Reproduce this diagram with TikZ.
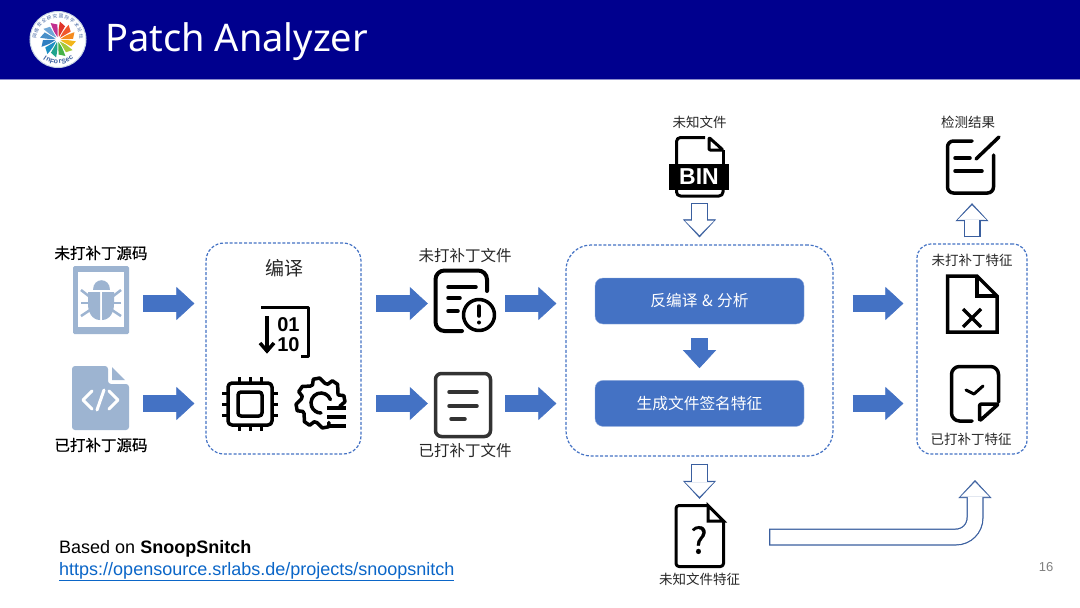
\documentclass[tikz,border=0pt]{standalone}
\usepackage{fontspec}
\setmainfont{Liberation Sans}
\newfontfamily\cjk{Noto Sans CJK SC}
\newfontfamily\cjkheavy[FakeBold=0.5]{Noto Sans CJK SC}
\newfontfamily\titlefont{Noto Sans}
\usepackage{xcolor}
\usepackage{tikz}
\usetikzlibrary{arrows.meta,positioning}

\definecolor{headblue}{HTML}{00008E}
\definecolor{boxblue}{HTML}{4472C4}
\definecolor{edgeblue}{HTML}{3A5F9F}
\definecolor{softblue}{HTML}{9DB4D1}
\definecolor{linkblue}{HTML}{0B66C8}
\newcommand{\pxfont}[1]{\fontsize{#1}{#1}\selectfont}

\begin{document}
\begin{tikzpicture}[x=1pt, y=-1pt,
	lbl/.style={inner sep=0pt, text=black!85, font=\cjk\pxfont{13.5}},
	dashbox/.style={draw=boxblue, line width=1.2pt, dash pattern=on 3pt off 1.8pt},
	stepbox/.style={draw=boxblue!60!white, fill=boxblue, rounded corners=8pt, minimum width=209pt, minimum height=46pt, text=white, inner sep=0pt, font=\cjk\pxfont{15.7}},
	iconbox/.style={inner sep=0pt, minimum width=#1},
	icon/.style={line width=3.5pt, line cap=round, line join=round},
	flowarrow/.style 2 args={draw=boxblue, line width=17pt, -{Triangle[length=18pt,width=33pt,line width=.6pt]}, shorten <=#1, shorten >=#2},
	openarrow/.style 2 args={draw=white, line width=14.5pt, -{Triangle[length=14.5pt,width=28.5pt,line width=.6pt]}, shorten <=#1+1.2pt, shorten >=#2+2.2pt,
		preaction={draw=edgeblue, line width=17pt, -{Triangle[length=18pt,width=33pt,line width=.6pt]}, shorten <=#1, shorten >=#2}}]
	\useasboundingbox (0,0) rectangle (1080,608);
	\fill[white] (0,0) rectangle (1080,608);

	% header
	\fill[headblue] (0,0) rectangle (1080,79);
	\draw[color=headblue!45!white, line width=1pt] (0,79.5) -- (1080,79.5);
	\node (title) [anchor=base west, inner sep=0pt, text=white, font=\titlefont\pxfont{38}] at (105,51) {Patch Analyzer};

	% logo
	\node (logo) [circle, fill=white, draw=softblue!60!white, line width=1pt, minimum size=56pt, inner sep=0pt] at (58,39.5) {};
	\begin{scope}[shift={(58,39.5)}]
		\foreach \a/\c in {-100/C2308F,-70/E0352B,-40/F0562A,-10/F58A1F,20/F2B61B,50/A5C93A,80/45B24A,110/1FA58E,140/1C8FC4,170/2F7FC1,200/4A90C8,230/6FA6D6}{
			\definecolor{bladecol}{HTML}{\c}
			\fill[bladecol] (\a:2.5) .. controls (\a-18:9) .. (\a-14:18) -- (\a+8:15) .. controls (\a+8:9) .. cycle;
		}
		\foreach \t [count=\i] in {网,络,安,全,研,究,国,际,学,术,论,坛}{
			\pgfmathsetmacro{\ang}{-172+(\i-1)*14.9}
			\pgfmathsetmacro{\rot}{-(\ang+90)}
			\node (ring\i) [inner sep=0pt, rotate=\rot, text=edgeblue, font=\cjk\pxfont{4.6}] at (\ang:23.5) {\t};
		}
		\foreach \t [count=\i] in {I,n,F,o,r,S,e,c}{
			\pgfmathsetmacro{\ang}{125-(\i-1)*10}
			\pgfmathsetmacro{\rot}{90-\ang}
			\node (seal\i) [inner sep=0pt, rotate=\rot, text=edgeblue, font=\bfseries\pxfont{7}] at (\ang:22.5) {\t};
		}
	\end{scope}

	% containers
	\node (compile) [dashbox, rounded corners=18pt, minimum width=155pt, minimum height=211pt] at (283.5,348.5) {};
	\node (analysis) [dashbox, rounded corners=25pt, minimum width=267pt, minimum height=211pt] at (699.5,350.5) {};
	\node (features) [dashbox, rounded corners=14pt, minimum width=110pt, minimum height=210pt] at (972,349) {};
	\node (decomp) [stepbox] at (699.5,301) {反编译\hspace{4.5pt}\&\hspace{4.5pt}分析};
	\node (signgen) [stepbox, below=56pt of decomp] {生成文件签名特征};

	% anchors for the icons
	\node (bugsrc) [iconbox=56pt, minimum height=68pt] at (101,303.5) {};
	\node (codesrc) [iconbox=56pt, minimum height=64pt] at (101,403.5) {};
	\node (warnfile) [iconbox=56pt, minimum height=61pt] at (463,303.5) {};
	\node (plainfile) [iconbox=56pt, minimum height=64pt] at (463,403.5) {};
	\node (binfile) [iconbox=60pt, minimum height=60pt] at (699.5,167) {};
	\node (result) [iconbox=52pt, minimum height=52pt] at (972,167) {};
	\node (unkfeat) [iconbox=49pt, minimum height=62pt] at (699.5,537) {};
	\coordinate (bentend) at (975,454);

	% labels
	\node (srcalbl) [lbl, text=black, above=9pt of bugsrc, font=\cjkheavy\pxfont{15.5}] {未打补丁源码};
	\node (srcblbl) [lbl, text=black, below=2pt of codesrc, font=\cjkheavy\pxfont{15.5}] {已打补丁源码};
	\node (cmplbl) [lbl, font=\cjk\pxfont{19}] at (284,268) {编译};
	\node (filealbl) [lbl, font=\cjk\pxfont{15.5}] at (465,256) {未打补丁文件};
	\node (fileblbl) [lbl, font=\cjk\pxfont{15.5}] at (465,451) {已打补丁文件};
	\node (binlbl) [lbl, above=8pt of binfile] {未知文件};
	\node (reslbl) [lbl] at (968,122) {检测结果};
	\node (feaalbl) [lbl] at (972,260) {未打补丁特征};
	\node (feablbl) [lbl] at (971,439) {已打补丁特征};
	\node (unklbl) [lbl, below=5pt of unkfeat] {未知文件特征};

	% source icons
	\fill[softblue, rounded corners=1.5pt] (73,266) rectangle (129,334);
	\fill[white] (78,272) rectangle (124,327);
	\fill[softblue] (93,290) .. controls (93,277) and (110,277) .. (110,290) -- cycle;
	\fill[softblue] (88,292) -- (100,292) -- (100,320) .. controls (92,320) and (88,312) .. (88,304) -- cycle;
	\fill[softblue] (114,292) -- (102,292) -- (102,320) .. controls (110,320) and (114,312) .. (114,304) -- cycle;
	\foreach \ya/\yb in {290/297,303/303,316/310}{
		\draw[softblue, line width=2.5pt] (81,\ya) -- (90,\yb);
		\draw[softblue, line width=2.5pt] (121,\ya) -- (112,\yb);
	}
	\fill[softblue, rounded corners=3pt] (108,366) -- (72,366) -- (72,430) -- (129,430) -- (129,384) -- (108,384) -- cycle;
	\fill[softblue] (112,367) -- (125,380) -- (112,380) -- cycle;
	\draw[white, line width=3pt, line cap=round, line join=round] (92,391) -- (83,400) -- (92,409);
	\draw[white, line width=3pt, line cap=round, line join=round] (109,391) -- (118,400) -- (109,409);
	\draw[white, line width=3pt, line cap=round] (97,410) -- (104,390);

	% compile icons
	\draw[icon, line cap=butt] (261,307.5) -- (308.5,307.5) -- (308.5,356.5) -- (301,356.5);
	\draw[icon, line cap=butt] (267,316) -- (267,352);
	\draw[icon, line cap=butt, line join=miter] (260,343) -- (267,351) -- (274,343);
	\node (binhi) [inner sep=0pt, font=\bfseries\pxfont{20}] at (288.5,325) {01};
	\node (binlo) [inner sep=0pt, font=\bfseries\pxfont{20}] at (288.5,345) {10};
	\draw[icon, rounded corners=4pt] (228,383) rectangle (272,425);
	\draw[icon, rounded corners=3pt] (238,392) rectangle (262,416);
	\foreach \p in {239,250,261}{
		\draw[line width=3pt, line cap=butt] (\p,377) -- (\p,383);
		\draw[line width=3pt, line cap=butt] (\p,425) -- (\p,431);
	}
	\foreach \p in {393,404,415}{
		\draw[line width=3pt, line cap=butt] (222,\p) -- (228,\p);
		\draw[line width=3pt, line cap=butt] (272,\p) -- (278,\p);
	}
	\begin{scope}[shift={(321,403)}]
		\draw[line width=3.5pt, line join=round, line cap=round] (10:19) -- (-3:24) -- (-18:24) -- (-25:19) -- (-33:20) -- (-48:25) -- (-63:25) -- (-70:20) -- (-78:20) -- (-93:25) -- (-108:25) -- (-115:20) -- (-123:20) -- (-138:25) -- (-153:25) -- (-160:20) -- (-168:20) -- (-183:25) -- (-198:25) -- (-205:20) -- (-213:20) -- (-228:25) -- (-243:25) -- (-250:20) -- (-258:20) -- (-273:25) -- (-288:25) -- (-292:21);
		\draw[line width=3.5pt, line cap=round] (-20:10) arc[start angle=-20, end angle=-270, radius=10];
	\end{scope}
	\foreach \p in {408,417,426}{
		\draw[line width=3.5pt] (327,\p) -- (346,\p);
	}

	% patched and unpatched files
	\draw[icon, line width=4pt, rounded corners=9pt] (487,291) -- (487,270.5) -- (435.5,270.5) -- (435.5,331) -- (462,331);
	\draw[icon] (448,287) -- (476,287) (448,298) -- (460,298) (448,311) -- (458,311);
	\draw[icon] (479,315) circle[radius=15.5];
	\draw[line width=3.5pt, line cap=round] (479,306) -- (479,316);
	\fill (479,322.5) circle[radius=2];
	\draw[icon, black!80, rounded corners=6pt] (435.5,373.5) rectangle (490.5,436.5);
	\draw[icon, black!80] (449,392) -- (477,392) (449,406) -- (477,406) (451,419) -- (465,419);

	% binary file
	\draw[icon, line width=3pt, line cap=butt, rounded corners=4pt] (676.5,164) -- (676.5,137.5) -- (705,137.5);
	\draw[icon, line width=3pt, line cap=butt, rounded corners=1pt] (709,137.5) -- (709,150) -- (723,150) -- cycle;
	\draw[line width=3pt] (723,150) -- (723,164);
	\draw[icon, line width=3pt, line cap=butt, rounded corners=4pt] (676.5,190) -- (676.5,196) -- (723,196) -- (723,190);
	\fill (669,164) rectangle (729,190);
	\node (bintxt) [inner sep=0pt, text=white, font=\bfseries\pxfont{23}] at (699,177) {BIN};

	% result icon
	\draw[icon, rounded corners=6pt] (972,141) -- (947.5,141) -- (947.5,193) -- (993.5,193) -- (993.5,155);
	\draw[icon] (999,137) -- (976,159);
	\draw[icon] (955,158) -- (970,158) (955,171) -- (982,171);

	% feature icons
	\draw[icon, line join=miter, line cap=butt] (947.5,276) -- (977,276) -- (997,296) -- (997,332) -- (947.5,332) -- cycle;
	\draw[icon, line join=miter, line cap=butt] (977,276) -- (977,296) -- (997,296);
	\draw[icon, line cap=butt] (963,309) -- (981,327) (981,309) -- (963,327);
	\draw[icon, rounded corners=8pt] (972,421) -- (951.5,421) -- (951.5,366.5) -- (998.5,366.5) -- (998.5,402);
	\draw[icon, rounded corners=2pt] (979.5,421) -- (979.5,404) -- (998.5,404) -- cycle;
	\draw[line width=3pt, line cap=round, line join=round] (966,390) -- (974,394) -- (983,386);

	% unknown feature icon
	\draw[icon, line width=3pt, rounded corners=3pt] (708,505.5) -- (676,505.5) -- (676,566.5) -- (723.5,566.5) -- (723.5,521);
	\draw[icon, line width=3pt, line join=miter] (708,505.5) -- (723.5,521) -- (708,521) -- cycle;
	\node (quest) [inner sep=0pt, font=\cjkheavy\pxfont{36}] at (699,540) {?};

	% filled arrows
	\draw[flowarrow={14pt}{11pt}] (bugsrc.east) -- (bugsrc.east -| compile.west);
	\draw[flowarrow={14pt}{11pt}] (codesrc.east) -- (codesrc.east -| compile.west);
	\draw[flowarrow={14.5pt}{7pt}] (warnfile.west -| compile.east) -- (warnfile.west);
	\draw[flowarrow={14.5pt}{7pt}] (plainfile.west -| compile.east) -- (plainfile.west);
	\draw[flowarrow={14pt}{9pt}] (warnfile.east) -- (warnfile.east -| analysis.west);
	\draw[flowarrow={14pt}{9pt}] (plainfile.east) -- (plainfile.east -| analysis.west);
	\draw[flowarrow={19pt}{13pt}] (warnfile.east -| analysis.east) -- (warnfile.east -| features.west);
	\draw[flowarrow={19pt}{13pt}] (plainfile.east -| analysis.east) -- (plainfile.east -| features.west);
	\draw[flowarrow={14pt}{12pt}] (decomp) -- (signgen);

	% outlined arrows
	\draw[openarrow={6pt}{7pt}] (binfile.south) -- (analysis.north);
	\draw[openarrow={7pt}{7pt}] (analysis.south) -- (unkfeat.north);
	\draw[openarrow={6pt}{10pt}] (features.north) -- (result.south);
	\draw[openarrow={45pt}{26pt}, rounded corners=19pt] (unkfeat.east) -| (bentend);

	% footer
	\node (basedon) [anchor=base west, inner sep=0pt, font=\pxfont{18}] at (59,553) {Based on \textbf{SnoopSnitch}};
	\node (srclink) [anchor=base west, inner sep=0pt, text=linkblue, font=\pxfont{18}] at (59,575) {\underline{https://opensource.srlabs.de/projects/snoopsnitch}};
	\node (pagenum) [inner sep=0pt, text=black!50, font=\pxfont{13}] at (1046,567.5) {16};
\end{tikzpicture}
\end{document}
